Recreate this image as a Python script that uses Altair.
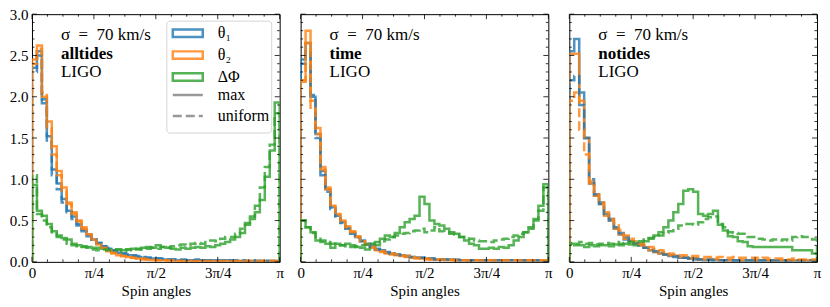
import altair as alt
import numpy as np
import pandas as pd

PI = float(np.pi)
W = 248
H = 248
SERIF = "'Liberation Serif', 'Times New Roman', 'DejaVu Serif', serif"

panel_names = ["alltides", "time", "notides"]
sigma_label = "σ\u2002=\u200270 km/s"
detector_label = "LIGO"
series_names = ["θ₁", "θ₂", "ΔΦ"]
kind_names = ["max", "uniform"]
series_colors = ["#1f77b4", "#ff7f0e", "#2ca02c"]

# ---- histogram heights, 50 bins over [0, pi] ----
# panel: alltides
t1_max_A = [2.35, 2.55, 1.92, 1.52, 1.12, 0.95, 0.76, 0.62, 0.55, 0.46, 0.39, 0.33, 0.27, 0.23, 0.19, 0.16, 0.13, 0.11, 0.10, 0.08,
            0.07, 0.06, 0.05, 0.05, 0.04, 0.04, 0.03, 0.03, 0.03, 0.02, 0.02, 0.02, 0.02, 0.02, 0.02, 0.01, 0.02, 0.01, 0.01, 0.02,
            0.01, 0.01, 0.01, 0.01, 0.01, 0.01, 0.01, 0.01, 0.01, 0.01]
t1_uni_A = [2.30, 2.50, 1.97, 1.45, 1.05, 0.88, 0.72, 0.60, 0.52, 0.44, 0.37, 0.31, 0.27, 0.23, 0.19, 0.17, 0.14, 0.12, 0.10, 0.09,
            0.08, 0.07, 0.06, 0.05, 0.05, 0.04, 0.04, 0.03, 0.03, 0.03, 0.03, 0.02, 0.02, 0.03, 0.02, 0.02, 0.02, 0.02, 0.02, 0.02,
            0.02, 0.02, 0.02, 0.01, 0.02, 0.01, 0.01, 0.01, 0.01, 0.01]
t2_max_A = [2.45, 2.62, 2.00, 1.70, 1.40, 1.10, 0.90, 0.72, 0.60, 0.50, 0.42, 0.33, 0.27, 0.22, 0.17, 0.13, 0.10, 0.08, 0.07, 0.06,
            0.05, 0.04, 0.03, 0.03, 0.02, 0.02, 0.02, 0.01, 0.01, 0.01, 0.01, 0.01, 0.01, 0.01, 0.01, 0.01, 0.01, 0.01, 0.01, 0.01,
            0.01, 0.01, 0.01, 0.01, 0.01, 0.01, 0.01, 0.01, 0.01, 0.01]
t2_uni_A = [2.40, 2.58, 2.05, 1.62, 1.30, 1.05, 0.86, 0.70, 0.58, 0.49, 0.40, 0.33, 0.26, 0.21, 0.17, 0.14, 0.11, 0.09, 0.07, 0.06,
            0.05, 0.04, 0.04, 0.03, 0.03, 0.02, 0.02, 0.02, 0.02, 0.01, 0.01, 0.01, 0.01, 0.01, 0.01, 0.01, 0.01, 0.01, 0.01, 0.01,
            0.01, 0.01, 0.01, 0.01, 0.01, 0.01, 0.01, 0.01, 0.01, 0.01]
dp_max_A = [0.93, 0.62, 0.56, 0.46, 0.37, 0.32, 0.29, 0.27, 0.22, 0.20, 0.19, 0.18, 0.17, 0.17, 0.16, 0.15, 0.14, 0.15, 0.14, 0.15,
            0.16, 0.15, 0.17, 0.18, 0.17, 0.20, 0.18, 0.17, 0.16, 0.15, 0.17, 0.16, 0.17, 0.18, 0.17, 0.19, 0.18, 0.20, 0.22, 0.24,
            0.27, 0.30, 0.35, 0.45, 0.52, 0.60, 0.75, 1.03, 1.35, 1.93]
dp_uni_A = [1.05, 0.58, 0.50, 0.42, 0.36, 0.30, 0.27, 0.22, 0.20, 0.19, 0.18, 0.17, 0.15, 0.14, 0.15, 0.14, 0.14, 0.15, 0.13, 0.15,
            0.14, 0.16, 0.15, 0.16, 0.17, 0.16, 0.18, 0.17, 0.19, 0.20, 0.21, 0.20, 0.22, 0.23, 0.22, 0.24, 0.26, 0.25, 0.28, 0.30,
            0.30, 0.34, 0.40, 0.47, 0.55, 0.68, 0.90, 1.15, 1.42, 1.80]

# panel: time
t1_max_B = [2.45, 2.65, 2.00, 1.55, 1.10, 0.88, 0.66, 0.56, 0.48, 0.41, 0.35, 0.30, 0.26, 0.22, 0.19, 0.16, 0.14, 0.12, 0.10, 0.09,
            0.08, 0.07, 0.06, 0.05, 0.05, 0.04, 0.04, 0.03, 0.03, 0.03, 0.03, 0.02, 0.02, 0.02, 0.02, 0.02, 0.02, 0.02, 0.02, 0.02,
            0.02, 0.02, 0.02, 0.02, 0.02, 0.01, 0.02, 0.01, 0.01, 0.01]
t1_uni_B = [2.40, 2.55, 2.02, 1.50, 1.05, 0.85, 0.64, 0.55, 0.47, 0.40, 0.34, 0.29, 0.25, 0.21, 0.18, 0.15, 0.13, 0.11, 0.10, 0.09,
            0.08, 0.07, 0.06, 0.05, 0.05, 0.04, 0.04, 0.03, 0.03, 0.03, 0.03, 0.03, 0.02, 0.02, 0.02, 0.02, 0.02, 0.02, 0.02, 0.02,
            0.02, 0.02, 0.02, 0.02, 0.02, 0.02, 0.02, 0.02, 0.01, 0.01]
t2_max_B = [2.18, 2.80, 1.95, 1.62, 1.15, 0.90, 0.68, 0.58, 0.50, 0.43, 0.37, 0.31, 0.25, 0.21, 0.17, 0.14, 0.12, 0.10, 0.09, 0.08,
            0.07, 0.06, 0.05, 0.04, 0.04, 0.03, 0.03, 0.03, 0.03, 0.02, 0.02, 0.02, 0.02, 0.02, 0.02, 0.02, 0.02, 0.02, 0.02, 0.02,
            0.02, 0.02, 0.02, 0.02, 0.02, 0.02, 0.02, 0.02, 0.02, 0.02]
t2_uni_B = [2.20, 2.65, 1.85, 1.55, 1.12, 0.88, 0.67, 0.57, 0.49, 0.42, 0.36, 0.30, 0.25, 0.21, 0.18, 0.15, 0.13, 0.11, 0.10, 0.09,
            0.08, 0.07, 0.06, 0.05, 0.04, 0.04, 0.03, 0.03, 0.03, 0.03, 0.03, 0.02, 0.02, 0.02, 0.02, 0.02, 0.02, 0.02, 0.02, 0.02,
            0.02, 0.02, 0.02, 0.02, 0.02, 0.02, 0.02, 0.02, 0.02, 0.02]
dp_max_B = [0.50, 0.42, 0.36, 0.26, 0.24, 0.22, 0.17, 0.22, 0.20, 0.22, 0.20, 0.18, 0.17, 0.15, 0.22, 0.20, 0.28, 0.32, 0.30, 0.35,
            0.42, 0.48, 0.52, 0.56, 0.79, 0.70, 0.50, 0.46, 0.44, 0.40, 0.36, 0.34, 0.30, 0.26, 0.22, 0.20, 0.16, 0.16, 0.17, 0.16,
            0.18, 0.17, 0.20, 0.26, 0.30, 0.36, 0.40, 0.52, 0.68, 0.94]
dp_uni_B = [0.50, 0.42, 0.35, 0.30, 0.26, 0.24, 0.22, 0.20, 0.20, 0.19, 0.18, 0.19, 0.20, 0.21, 0.22, 0.24, 0.25, 0.27, 0.30, 0.32,
            0.34, 0.35, 0.37, 0.38, 0.40, 0.36, 0.38, 0.42, 0.37, 0.36, 0.34, 0.33, 0.30, 0.30, 0.28, 0.26, 0.25, 0.25, 0.24, 0.26,
            0.27, 0.28, 0.30, 0.32, 0.34, 0.36, 0.42, 0.50, 0.62, 0.90]

# panel: notides
t1_max_C = [2.55, 2.70, 2.05, 1.50, 0.95, 0.80, 0.72, 0.58, 0.52, 0.40, 0.33, 0.27, 0.25, 0.22, 0.20, 0.17, 0.14, 0.12, 0.10, 0.09,
            0.07, 0.06, 0.05, 0.05, 0.04, 0.03, 0.03, 0.02, 0.02, 0.02, 0.02, 0.02, 0.02, 0.01, 0.01, 0.01, 0.01, 0.01, 0.01, 0.01,
            0.01, 0.01, 0.01, 0.01, 0.01, 0.01, 0.01, 0.01, 0.01, 0.01]
t1_uni_C = [2.20, 2.25, 1.90, 1.50, 1.00, 0.82, 0.70, 0.58, 0.50, 0.42, 0.35, 0.30, 0.26, 0.23, 0.20, 0.17, 0.15, 0.13, 0.11, 0.09,
            0.08, 0.07, 0.06, 0.05, 0.04, 0.04, 0.03, 0.03, 0.03, 0.02, 0.02, 0.02, 0.02, 0.02, 0.02, 0.02, 0.02, 0.02, 0.02, 0.02,
            0.02, 0.02, 0.02, 0.02, 0.02, 0.02, 0.02, 0.02, 0.02, 0.02]
t2_max_C = [2.52, 2.52, 1.95, 1.50, 0.95, 0.80, 0.70, 0.56, 0.50, 0.40, 0.33, 0.28, 0.25, 0.22, 0.20, 0.17, 0.14, 0.12, 0.10, 0.09,
            0.08, 0.07, 0.06, 0.05, 0.04, 0.04, 0.03, 0.03, 0.03, 0.03, 0.02, 0.02, 0.02, 0.02, 0.02, 0.02, 0.02, 0.02, 0.02, 0.02,
            0.02, 0.02, 0.02, 0.02, 0.02, 0.02, 0.02, 0.02, 0.02, 0.02]
t2_uni_C = [1.95, 2.05, 1.60, 1.30, 0.98, 0.82, 0.72, 0.60, 0.52, 0.44, 0.38, 0.32, 0.28, 0.25, 0.22, 0.20, 0.18, 0.16, 0.14, 0.12,
            0.10, 0.09, 0.08, 0.08, 0.07, 0.07, 0.06, 0.06, 0.06, 0.05, 0.06, 0.05, 0.05, 0.06, 0.05, 0.05, 0.05, 0.05, 0.04, 0.05,
            0.04, 0.04, 0.04, 0.04, 0.03, 0.04, 0.03, 0.03, 0.03, 0.03]
dp_max_C = [0.22, 0.20, 0.20, 0.18, 0.20, 0.19, 0.20, 0.20, 0.19, 0.21, 0.20, 0.22, 0.21, 0.20, 0.23, 0.25, 0.29, 0.32, 0.36, 0.42,
            0.50, 0.60, 0.70, 0.86, 0.88, 0.85, 0.58, 0.56, 0.58, 0.62, 0.45, 0.38, 0.31, 0.30, 0.25, 0.24, 0.19, 0.18, 0.18, 0.18,
            0.18, 0.18, 0.18, 0.18, 0.18, 0.14, 0.14, 0.14, 0.14, 0.10]
dp_uni_C = [0.23, 0.22, 0.24, 0.22, 0.23, 0.21, 0.22, 0.23, 0.22, 0.24, 0.22, 0.23, 0.24, 0.23, 0.25, 0.27, 0.28, 0.30, 0.32, 0.35,
            0.37, 0.40, 0.44, 0.46, 0.46, 0.45, 0.48, 0.52, 0.54, 0.55, 0.46, 0.42, 0.36, 0.35, 0.34, 0.34, 0.30, 0.30, 0.28, 0.27,
            0.26, 0.27, 0.26, 0.27, 0.26, 0.30, 0.31, 0.30, 0.30, 0.27]

panel_data = [
    [t1_max_A, t2_max_A, dp_max_A, t1_uni_A, t2_uni_A, dp_uni_A],
    [t1_max_B, t2_max_B, dp_max_B, t1_uni_B, t2_uni_B, dp_uni_B],
    [t1_max_C, t2_max_C, dp_max_C, t1_uni_C, t2_uni_C, dp_uni_C],
]
series_of = [0, 1, 2, 0, 1, 2]
kind_of = [0, 0, 0, 1, 1, 1]

# ticks
x_major = [0.0, PI / 4, PI / 2, 3 * PI / 4, PI]
x_minor = [k * PI / 16 for k in range(17) if k % 4]
y_major = [0.0, 0.5, 1.0, 1.5, 2.0, 2.5, 3.0]
y_minor = [round(0.1 * k, 1) for k in range(31) if k % 5]

xscale = alt.Scale(domain=[0, PI], nice=False, zero=False)
yscale = alt.Scale(domain=[0, 3.0], nice=False)
color_scale = alt.Scale(domain=series_names, range=series_colors)
dash_scale = alt.Scale(domain=kind_names, range=[[1, 0], [9, 4]])

x_label_expr = ("datum.value < 0.1 ? '0' : datum.value < 1 ? 'π/4' : datum.value < 2 ? 'π/2'"
                " : datum.value < 3 ? '3π/4' : 'π'")

XAXIS = alt.Axis(values=x_major, labelExpr=x_label_expr, ticks=False, domain=False, grid=False,
                 labelFont=SERIF, labelFontSize=15, labelPadding=4, labelFlush=False,
                 labelOverlap=False, labelColor="black", title="Spin angles", titleFont=SERIF,
                 titleFontSize=15, titleFontWeight="normal", titlePadding=3, titleColor="black")
YAXIS = alt.Axis(values=y_major, format=".1f", ticks=False, domain=False, grid=False,
                 labelFont=SERIF, labelFontSize=15, labelPadding=4, labelColor="black",
                 labelFlush=False, labelOverlap=False, title=None)


def step_frame(vals, sname, kname):
    n = len(vals)
    w = PI / n
    xs = [0.0] + [i * w for i in range(n)] + [PI, PI]
    ys = [0.0] + list(vals) + [vals[-1], 0.0]
    return pd.DataFrame({"x": xs, "y": ys, "o": list(range(len(xs))),
                         "series": sname, "kind": kname})


one = pd.DataFrame({"a": [0]})


def tick_layers(yaxis):
    layers = []
    for vals, ln in [(x_major, 5), (x_minor, 2.5)]:
        d = pd.DataFrame({"x": vals})
        for y0, y1 in [(H, H - ln), (0, ln)]:
            layers.append(alt.Chart(d).mark_rule(color="black", strokeWidth=0.8).encode(
                x=alt.X("x:Q", scale=xscale, axis=XAXIS), y=alt.value(y0), y2=alt.value(y1)))
    for vals, ln in [(y_major, 5), (y_minor, 2.5)]:
        d = pd.DataFrame({"y": vals})
        for x0, x1 in [(0, ln), (W, W - ln)]:
            layers.append(alt.Chart(d).mark_rule(color="black", strokeWidth=0.8).encode(
                y=alt.Y("y:Q", scale=yscale, axis=yaxis), x=alt.value(x0), x2=alt.value(x1)))
    return layers


def make_panel(pi):
    first = pi == 0
    layers = []
    if first:
        layers.append(alt.Chart(one).mark_rect(fill="white", stroke="#cccccc", strokeWidth=1,
                                               cornerRadius=3, opacity=0.8).encode(
            x=alt.value(135), x2=alt.value(240), y=alt.value(7), y2=alt.value(119)))
        yaxis = YAXIS
        color_legend = alt.Legend(title=None, orient="none", legendX=147, legendY=10,
                                  symbolType="M-2,-0.5H2V0.5H-2Z", symbolSize=225,
                                  symbolStrokeWidth=2.5, symbolOpacity=0.8,
                                  symbolFillColor="transparent",
                                  labelFont=SERIF, labelFontSize=16, labelColor="black",
                                  labelOffset=21, rowPadding=4, padding=0, zindex=1)
        dash_legend = alt.Legend(title=None, orient="none", legendX=147, legendY=72,
                                 symbolType="M-2,0H2", symbolSize=225, symbolStrokeWidth=2.5,
                                 symbolStrokeColor="#7f7f7f",
                                 labelFont=SERIF, labelFontSize=16, labelColor="black",
                                 labelOffset=21, rowPadding=4, padding=0, zindex=1)
    else:
        yaxis = None
        color_legend = None
        dash_legend = None
    for k, vals in enumerate(panel_data[pi]):
        df = step_frame(vals, series_names[series_of[k]], kind_names[kind_of[k]])
        layers.append(alt.Chart(df).mark_line(interpolate="step-after", strokeWidth=2.5,
                                              opacity=0.8, clip=True).encode(
            x=alt.X("x:Q", scale=xscale, axis=XAXIS),
            y=alt.Y("y:Q", scale=yscale, axis=yaxis),
            order=alt.Order("o:Q"),
            color=alt.Color("series:N", scale=color_scale, legend=color_legend),
            strokeDash=alt.StrokeDash("kind:N", scale=dash_scale, legend=dash_legend),
        ))
    layers += tick_layers(yaxis)
    texts = [(sigma_label, 21, "normal"), (panel_names[pi], 40, "bold"), (detector_label, 58, "normal")]
    for t, yy, fw in texts:
        layers.append(alt.Chart(one).mark_text(align="left", baseline="middle", font=SERIF,
                                               fontSize=17, fontWeight=fw, color="black").encode(
            x=alt.value(29), y=alt.value(yy), text=alt.value(t)))
    return alt.layer(*layers).properties(width=W, height=H)


chart = alt.hconcat(make_panel(0), make_panel(1), make_panel(2), spacing=21, bounds="flush").resolve_legend(
    color="independent", strokeDash="independent"
).properties(padding={"left": 0, "top": -2, "right": 0, "bottom": 0}).configure_view(
    stroke="black", strokeWidth=1
)

chart.save("out.html", embed_options={"renderer": "svg", "actions": False})
